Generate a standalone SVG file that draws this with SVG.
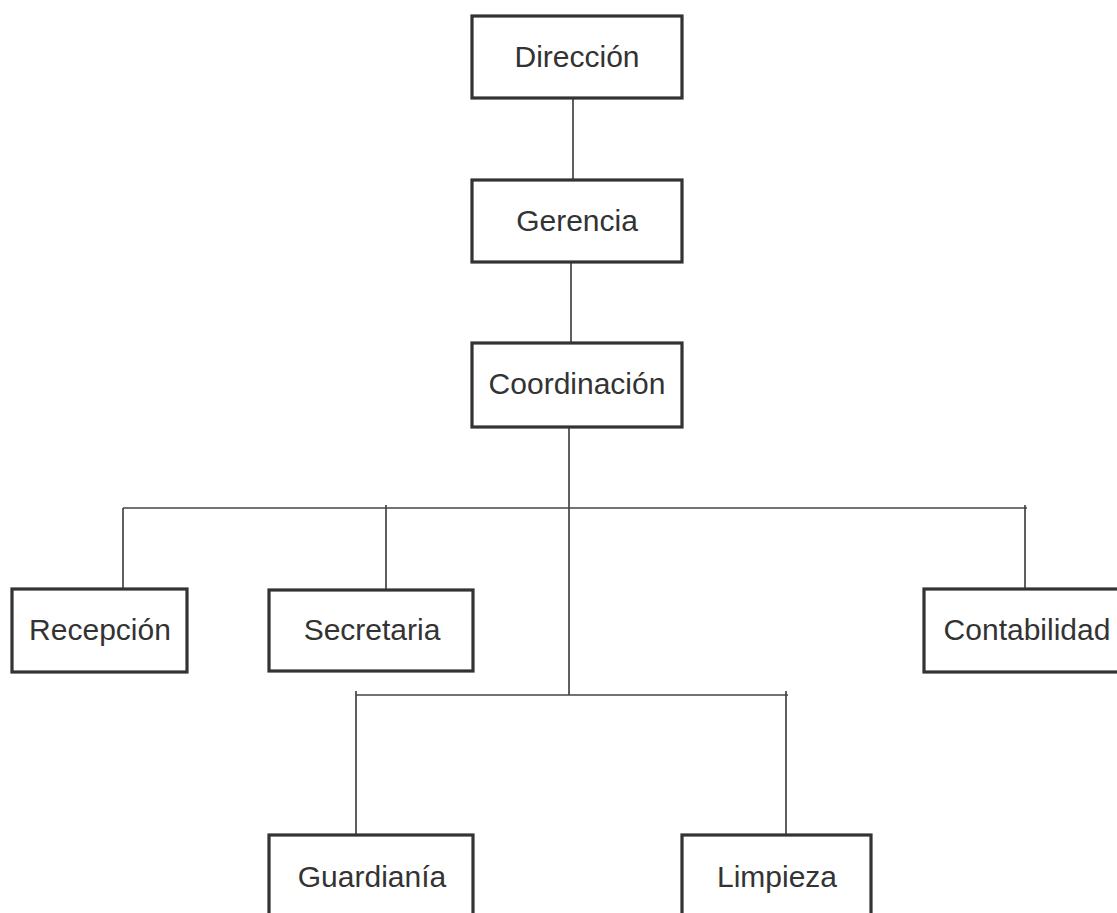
<svg xmlns="http://www.w3.org/2000/svg" width="1117" height="913" viewBox="0 0 1117 913">
<style>
.box{fill:#fff;stroke:#333;stroke-width:3.2}
.lbl{font-family:"Liberation Sans",Arial,sans-serif;font-size:30px;fill:#333;text-anchor:middle}
.con{fill:none;stroke:#444;stroke-width:1.7}
</style>
<rect width="1117" height="913" fill="#fff"/>
<g id="connectors">
<line class="con" x1="573" y1="98" x2="573" y2="180"/>
<line class="con" x1="571" y1="262" x2="571" y2="343"/>
<line class="con" x1="569" y1="427" x2="569" y2="695"/>
<line class="con" x1="123" y1="508" x2="1027" y2="508"/>
<line class="con" x1="123" y1="508" x2="123" y2="589"/>
<line class="con" x1="386" y1="505" x2="386" y2="589"/>
<line class="con" x1="1025" y1="505" x2="1025" y2="589"/>
<line class="con" x1="356" y1="695" x2="788" y2="695"/>
<line class="con" x1="356" y1="691" x2="356" y2="835"/>
<line class="con" x1="786" y1="691" x2="786" y2="835"/>
</g>
<g id="direccion"><rect class="box" x="472" y="16" width="210" height="82"/><text class="lbl" x="577" y="67">Dirección</text></g>
<g id="gerencia"><rect class="box" x="472" y="180" width="210" height="82"/><text class="lbl" x="577" y="231">Gerencia</text></g>
<g id="coordinacion"><rect class="box" x="472" y="343" width="210" height="84"/><text class="lbl" x="577" y="394">Coordinación</text></g>
<g id="recepcion"><rect class="box" x="12" y="589" width="175" height="83"/><text class="lbl" x="100" y="640">Recepción</text></g>
<g id="secretaria"><rect class="box" x="269" y="590" width="204" height="81"/><text class="lbl" x="372" y="640">Secretaria</text></g>
<g id="contabilidad"><rect class="box" x="924" y="589" width="204" height="83"/><text class="lbl" x="1027" y="640">Contabilidad</text></g>
<g id="guardiania"><rect class="box" x="269" y="835" width="204" height="100"/><text class="lbl" x="372" y="887">Guardianía</text></g>
<g id="limpieza"><rect class="box" x="682" y="835" width="189" height="100"/><text class="lbl" x="777" y="887">Limpieza</text></g>
</svg>
